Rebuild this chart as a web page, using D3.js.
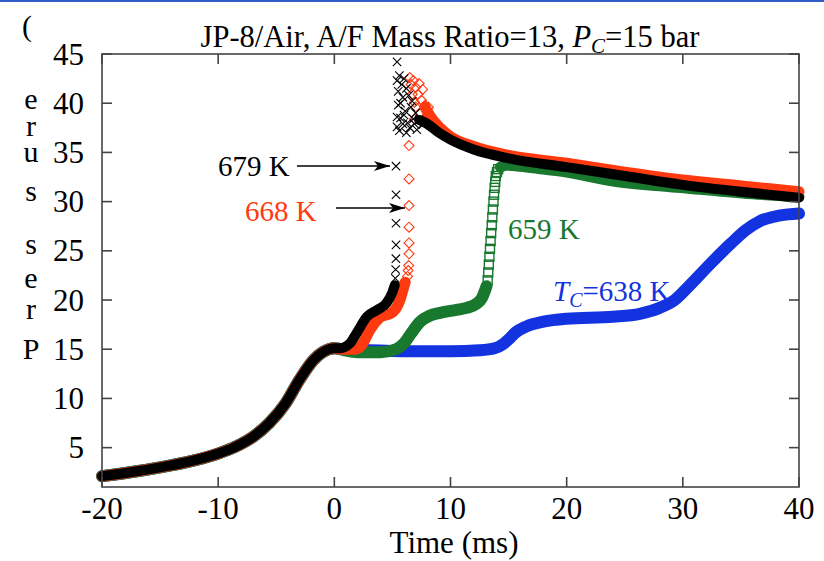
<!DOCTYPE html>
<html>
<head>
<meta charset="utf-8">
<script src="https://d3js.org/d3.v7.min.js"></script>
<style>
  body { margin: 0; background: #fff; }
  text { font-family: "Liberation Serif", "Times New Roman", serif; }
</style>
</head>
<body>
<div id="chart"></div>
<script>
// ---- data (time in ms, pressure in bar) ----
const xTicks = [-20, -10, 0, 10, 20, 30, 40];
const yTicks = [5, 10, 15, 20, 25, 30, 35, 40, 45];

// compression rise shared by every run
const commonRise = [[-20,2.1],[-17,2.6],[-15,3.0],[-12.8,3.5],[-10,4.4],[-8.5,5.1],[-7,6.1],
  [-5.6,7.5],[-4.2,9.5],[-3,11.9],[-1.8,13.9],[-1,14.7],[0,15.1]];

// T_C = 638 K (blue)
const blueBand = [[0.8,15.0],[1.5,14.9],[3,14.9],[6,14.8],[10,14.8],[12.5,14.9],[13.8,15.1],
  [14.5,15.5],[15,16.0],[15.6,16.7],[16.5,17.3],[18,17.8],[20,18.1],[24,18.3],[26.3,18.6],
  [28,19.2],[29.3,20.0],[30.6,21.5],[32.3,23.6],[34.1,25.7],[35.4,27.1],[36.6,28.0],
  [38.4,28.6],[40,28.8]];

// 659 K (green)
const greenLow = [[0.8,14.9],[2,14.7],[4,14.7],[5.3,15.0],[6,15.6],[6.6,16.6],[7.4,17.8],
  [8.2,18.4],[9.1,18.7],[10.5,19.0],[11.4,19.2],[12.2,19.6],[12.7,20.2],[13.1,21.4]];
const greenRise = [[13.2,22.0],[13.25,22.8],[13.3,23.6],[13.35,24.4],[13.4,25.2],[13.45,26.0],
  [13.5,26.8],[13.55,27.6],[13.6,28.4],[13.65,29.2],[13.7,30.0],[13.75,30.7],[13.8,31.4],
  [13.85,32.0],[13.9,32.6],[14.0,33.0],[14.1,33.3]];
const greenHigh = [[14.3,33.5],[14.8,33.7],[16,33.6],[18,33.3],[20,33.0],[24,32.1],[28,31.6],
  [32,31.2],[36,30.8],[40,30.5]];

// 668 K (red)
const redLow = [[0.8,15.0],[1.8,15.0],[2.4,15.5],[3.07,17.0],[3.9,18.2],[5.05,18.8],[5.65,20.0],
  [5.9,21.0],[6.1,21.8]];
const redSpike = [[6.3,22.4],[6.35,23.0],[6.4,23.5],[6.43,24.7],[6.43,25.8],[6.43,27.4],
  [6.43,29.6],[6.43,32.3],[6.43,35.7],[6.5,42.6],[6.8,42.3],[6.6,41.9],[7.0,41.6],[6.7,40.9],
  [7.2,40.9],[7.5,40.3],[7.0,39.6],[7.8,39.8],[7.4,39.0],[8.0,38.8],[6.9,38.4],[8.3,38.2],
  [7.6,41.4],[6.9,40.1],[7.3,42.0],[8.1,39.6]];
const redHigh = [[7.8,39.6],[8.3,38.6],[9,37.6],[10,36.6],[12,35.6],[15,34.7],[20,33.9],[25,33.0],
  [30,32.2],[35,31.6],[40,31.0]];

// 679 K (black)
const blackLow = [[0.5,15.1],[1.35,15.6],[1.9,16.6],[2.8,18.3],[3.7,19.0],[4.5,19.7],[5.0,20.8],
  [5.2,21.5]];
const blackSpike = [[5.25,22.2],[5.28,23.1],[5.3,24.2],[5.31,25.6],[5.31,27.8],[5.31,30.7],
  [5.31,33.6],[5.4,44.2],[5.4,42.3],[5.6,42.8],[5.8,41.9],[6.0,42.5],[5.5,41.2],[5.9,40.6],
  [6.2,41.5],[6.4,40.8],[5.5,39.8],[5.7,38.5],[5.4,37.6],[5.9,37.9],[6.1,39.2],[6.6,39.6],
  [6.8,38.4],[7.0,39.0],[5.6,37.2],[6.3,38.0],[7.3,38.3],[7.6,37.8],[6.5,37.5],[7.1,37.3],
  [6.0,38.8],[6.7,40.2],[5.7,40.0],[6.2,37.0],[6.9,37.9],[5.4,38.6]];
const blackHigh = [[7.3,38.3],[8,37.9],[9,37.0],[10,36.3],[12,35.3],[15,34.4],[20,33.5],[25,32.6],
  [30,31.7],[35,31.0],[40,30.4]];

const W = 824, H = 561;
const svg = d3.select("#chart").append("svg").attr("width", W).attr("height", H);

const x = d3.scaleLinear().domain([-20, 40]).range([102, 799]);
const y = d3.scaleLinear().domain([1, 45]).range([487, 54]);

// thin blue rule at page top
svg.append("rect").attr("x", 0).attr("y", 0).attr("width", W).attr("height", 2).attr("fill", "#2f5fc4");

const line = d3.line().x(d => x(d[0])).y(d => y(d[1])).curve(d3.curveMonotoneX);
const plot = svg.append("g");

function band(data, color, w) {
  plot.append("path").datum(data).attr("d", line)
    .attr("fill", "none").attr("stroke", color).attr("stroke-width", w)
    .attr("stroke-linecap", "round").attr("stroke-linejoin", "round");
}

const BLUE = "#1433e0", GREEN = "#17782e", RED = "#ff3a10", BLACK = "#000";

band(commonRise.concat(blueBand), BLUE, 12);
band(commonRise.concat(greenLow), GREEN, 12);
band(greenHigh, GREEN, 11);
plot.selectAll(".sq").data(greenRise).enter().append("rect")
  .attr("x", d => x(d[0]) - 4.5).attr("y", d => y(d[1]) - 4.5)
  .attr("width", 9).attr("height", 9)
  .attr("fill", "none").attr("stroke", GREEN).attr("stroke-width", 1.4);

band(commonRise.concat(redLow), RED, 11);
band(redHigh, RED, 11);
plot.selectAll(".dm").data(redSpike).enter().append("path")
  .attr("d", d => { const cx = x(d[0]), cy = y(d[1]), r = 5;
    return `M${cx},${cy-r}L${cx+r},${cy}L${cx},${cy+r}L${cx-r},${cy}Z`; })
  .attr("fill", "none").attr("stroke", RED).attr("stroke-width", 1.1);

band(commonRise.concat(blackLow), BLACK, 10);
band(blackHigh, BLACK, 10);
plot.selectAll(".xm").data(blackSpike).enter().append("path")
  .attr("d", d => { const cx = x(d[0]), cy = y(d[1]), r = 4.2;
    return `M${cx-r},${cy-r}L${cx+r},${cy+r}M${cx-r},${cy+r}L${cx+r},${cy-r}`; })
  .attr("fill", "none").attr("stroke", BLACK).attr("stroke-width", 1.1);

// frame and inward ticks on all four sides
const frame = svg.append("g").attr("stroke", "#444").attr("stroke-width", 1.6);
frame.append("rect").attr("x", x(-20)).attr("y", y(45))
  .attr("width", x(40) - x(-20)).attr("height", y(1) - y(45)).attr("fill", "none");
xTicks.forEach(t => {
  frame.append("line").attr("x1", x(t)).attr("x2", x(t)).attr("y1", y(1)).attr("y2", y(1) - 10);
  frame.append("line").attr("x1", x(t)).attr("x2", x(t)).attr("y1", y(45)).attr("y2", y(45) + 10);
});
yTicks.forEach(v => {
  frame.append("line").attr("x1", x(-20)).attr("x2", x(-20) + 10).attr("y1", y(v)).attr("y2", y(v));
  frame.append("line").attr("x1", x(40)).attr("x2", x(40) - 10).attr("y1", y(v)).attr("y2", y(v));
});

// tick labels
svg.selectAll(".xl").data(xTicks).enter().append("text")
  .attr("x", d => x(d)).attr("y", 519).attr("text-anchor", "middle")
  .attr("font-size", 31).text(d => d);
svg.selectAll(".yl").data(yTicks).enter().append("text")
  .attr("x", 84).attr("y", d => y(d) + 10.5).attr("text-anchor", "end")
  .attr("font-size", 31).text(d => d);

// axis titles
svg.append("text").attr("x", 454).attr("y", 553).attr("text-anchor", "middle")
  .attr("font-size", 31).text("Time (ms)");
svg.append("text").attr("x", 27).attr("y", 36).attr("text-anchor", "middle")
  .attr("font-size", 30).text("(");
const yLetters = [["e", 109], ["r", 136], ["u", 162], ["s", 201], ["s", 254],
  ["e", 288], ["r", 319], ["P", 359]];
const yTitle = svg.append("text").attr("font-size", 30).attr("text-anchor", "middle");
yTitle.selectAll("tspan").data(yLetters).enter().append("tspan")
  .attr("x", 31).attr("y", d => d[1]).text(d => d[0]);

// title
const title = svg.append("text").attr("x", 450).attr("y", 47).attr("text-anchor", "middle")
  .attr("font-size", 30.5);
title.append("tspan").text("JP-8/Air, A/F Mass Ratio=13, ");
title.append("tspan").attr("font-style", "italic").text("P");
title.append("tspan").attr("font-size", 21).attr("dy", 6).attr("font-style", "italic").text("C");
title.append("tspan").attr("dy", -6).text("=15 bar");

// annotations
svg.append("defs").append("marker").attr("id", "head")
  .attr("viewBox", "0 0 16 10").attr("refX", 16).attr("refY", 5)
  .attr("markerWidth", 16).attr("markerHeight", 10).attr("markerUnits", "userSpaceOnUse")
  .attr("orient", "auto")
  .append("path").attr("d", "M0,0L16,5L0,10L4,5Z").attr("fill", "#000");

svg.append("line").attr("x1", 297).attr("x2", 390).attr("y1", 166).attr("y2", 166)
  .attr("stroke", "#000").attr("stroke-width", 1.3).attr("marker-end", "url(#head)");
svg.append("line").attr("x1", 336).attr("x2", 405).attr("y1", 208).attr("y2", 208)
  .attr("stroke", "#000").attr("stroke-width", 1.3).attr("marker-end", "url(#head)");

svg.append("text").attr("x", 218).attr("y", 176).attr("font-size", 29).attr("fill", BLACK).text("679 K");
svg.append("text").attr("x", 245).attr("y", 221).attr("font-size", 29).attr("fill", RED).text("668 K");
svg.append("text").attr("x", 508).attr("y", 239).attr("font-size", 29).attr("fill", GREEN).text("659 K");
const tc = svg.append("text").attr("x", 553).attr("y", 301).attr("font-size", 29).attr("fill", BLUE);
tc.append("tspan").attr("font-style", "italic").text("T");
tc.append("tspan").attr("font-size", 20).attr("dy", 6).attr("font-style", "italic").text("C");
tc.append("tspan").attr("dy", -6).text("=638 K");
</script>
</body>
</html>
